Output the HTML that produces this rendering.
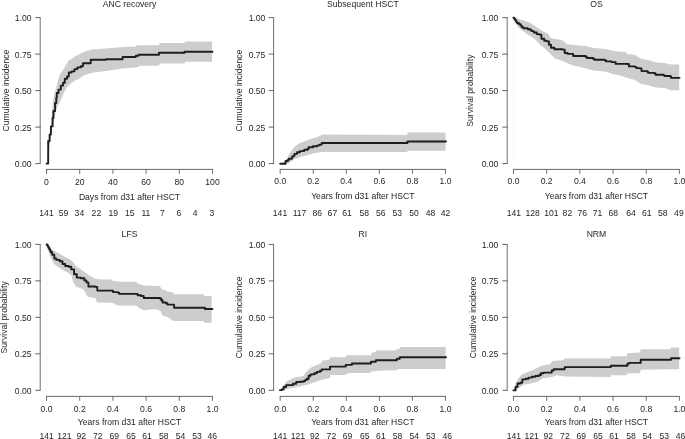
<!DOCTYPE html>
<html><head><meta charset="utf-8"><style>
html,body{margin:0;padding:0;background:#fff;width:685px;height:439px;overflow:hidden}
svg{display:block;will-change:transform}
text{font-family:"Liberation Sans", sans-serif;font-size:8.6px;fill:#262626}
</style></head><body>
<svg width="685" height="439" viewBox="0 0 685 439">
<rect width="685" height="439" fill="#fff"/>
<g><polygon points="46.6,163.6 48,150 49.5,138 51,125 52.9,102.2 54.6,93 56.3,87.4 59.5,74.8 63.7,69.1 68.2,61.1 75.9,55.9 83.9,51.9 91.1,49.5 106.2,48.4 123,47 136.1,46.6 136.1,45.3 159.4,45.3 159.4,43 184.7,43 184.7,41.6 212,41.6 212,61.7 184.7,61.7 184.7,63.5 159.4,63.5 159.4,65.8 138.9,65.8 138.9,67.1 136.1,67.1 136.1,67.6 122.2,68.6 106.2,71 95,72.2 89.5,73.4 83.4,75.5 79.9,78.2 74.5,80.9 70.4,83.7 67.6,86.4 64.9,90.5 62.8,95.3 60.8,100 59.3,103 57.6,106 55.9,111 55,116 53.5,122 52,130 50.5,140 49,150 47.2,163.6" fill="#cdcdcd"/><path d="M46.6,163.6H48.2V141H49.6V134.6H50.9V126.4H52.6V118H53.4V111H55.1V103H56.3V97.6H56.8V93H58.5V89.6H60.8V85.6H63.1V82.8H64.8V78.8H67.1V76.5H68.8V72.5H71.7V71.4H74.5V69.1H77.4V67.4H80.8V66.3H83V63.2H90.7V59.8H106V59.2H122.6V57H135.8V55.8H138.5V54.8H159V52.8H184.5V51.7H212.5" fill="none" stroke="#1f1d1e" stroke-width="1.9" stroke-linejoin="round" stroke-linecap="round"/><path d="M40.2,17.6V163.6M46.5,169.4V173.8M79.7,169.4V173.8M112.9,169.4V173.8M146.1,169.4V173.8M179.3,169.4V173.8M212.5,169.4V173.8" fill="none" stroke="#707070" stroke-width="1.0"/><path d="M35.3,17.6H40.65M35.3,54.1H40.65M35.3,90.6H40.65M35.3,127.1H40.65M35.3,163.6H40.65M46.05,169.4H212.95" fill="none" stroke="#555555" stroke-width="0.9"/><text x="31.6" y="21.2" text-anchor="end">1.00</text><text x="31.6" y="57.7" text-anchor="end">0.75</text><text x="31.6" y="94.2" text-anchor="end">0.50</text><text x="31.6" y="130.7" text-anchor="end">0.25</text><text x="31.6" y="167.2" text-anchor="end">0.00</text><text x="46.5" y="184.9" text-anchor="middle">0</text><text x="79.7" y="184.9" text-anchor="middle">20</text><text x="112.9" y="184.9" text-anchor="middle">40</text><text x="146.1" y="184.9" text-anchor="middle">60</text><text x="179.3" y="184.9" text-anchor="middle">80</text><text x="212.5" y="184.9" text-anchor="middle">100</text><text x="129.5" y="6.8" text-anchor="middle">ANC recovery</text><text x="129.5" y="199.9" text-anchor="middle">Days from d31 after HSCT</text><text transform="translate(8.8,90.6) rotate(-90)" text-anchor="middle">Cumulative incidence</text><text x="46.5" y="216" text-anchor="middle">141</text><text x="63.5" y="216" text-anchor="middle">59</text><text x="79.4" y="216" text-anchor="middle">34</text><text x="96.4" y="216" text-anchor="middle">22</text><text x="113.2" y="216" text-anchor="middle">19</text><text x="129.7" y="216" text-anchor="middle">15</text><text x="145.9" y="216" text-anchor="middle">11</text><text x="162.5" y="216" text-anchor="middle">7</text><text x="179" y="216" text-anchor="middle">6</text><text x="195.2" y="216" text-anchor="middle">4</text><text x="212" y="216" text-anchor="middle">3</text></g>
<g><polygon points="280.5,163.7 285.7,160.4 290,152.8 294.4,146.8 299.9,143 307.5,140.2 318.4,136.4 322.8,134.6 407.4,134.9 407.4,132.6 445.6,132.6 445.6,150.7 407.4,150.7 407.4,151.9 321.7,151.9 314,153.3 307.5,155 299.9,157.2 294.4,159.3 288.9,163.2 286,163.7" fill="#cdcdcd"/><path d="M280.2,163.7H285.6V161H287.8V159.9H288.9V158.8H291.9V157.4H292.4V156.1H294.4V153.9H297.1V152.2H299.9V151.1H304.2V149.7H307.5V149H308.6V147.3H313V146.2H317.3V145.4H319.5V144.6H321.7V143H407.4V141.5H446" fill="none" stroke="#1f1d1e" stroke-width="1.9" stroke-linejoin="round" stroke-linecap="round"/><path d="M273.6,17.6V163.6M280.2,169.4V173.8M313.26,169.4V173.8M346.32,169.4V173.8M379.38,169.4V173.8M412.44,169.4V173.8M445.5,169.4V173.8" fill="none" stroke="#707070" stroke-width="1.0"/><path d="M268.7,17.6H274.05M268.7,54.1H274.05M268.7,90.6H274.05M268.7,127.1H274.05M268.7,163.6H274.05M279.75,169.4H445.95" fill="none" stroke="#555555" stroke-width="0.9"/><text x="265.4" y="21.2" text-anchor="end">1.00</text><text x="265.4" y="57.7" text-anchor="end">0.75</text><text x="265.4" y="94.2" text-anchor="end">0.50</text><text x="265.4" y="130.7" text-anchor="end">0.25</text><text x="265.4" y="167.2" text-anchor="end">0.00</text><text x="280.2" y="183.9" text-anchor="middle">0.0</text><text x="313.26" y="183.9" text-anchor="middle">0.2</text><text x="346.32" y="183.9" text-anchor="middle">0.4</text><text x="379.38" y="183.9" text-anchor="middle">0.6</text><text x="412.44" y="183.9" text-anchor="middle">0.8</text><text x="445.5" y="183.9" text-anchor="middle">1.0</text><text x="362.85" y="6.8" text-anchor="middle">Subsequent HSCT</text><text x="362.85" y="198.9" text-anchor="middle">Years from d31 after HSCT</text><text transform="translate(241.6,90.6) rotate(-90)" text-anchor="middle">Cumulative incidence</text><text x="280" y="216" text-anchor="middle">141</text><text x="299.5" y="216" text-anchor="middle">117</text><text x="317.3" y="216" text-anchor="middle">86</text><text x="332.4" y="216" text-anchor="middle">67</text><text x="347" y="216" text-anchor="middle">61</text><text x="364.2" y="216" text-anchor="middle">58</text><text x="380.8" y="216" text-anchor="middle">56</text><text x="397.3" y="216" text-anchor="middle">53</text><text x="414.1" y="216" text-anchor="middle">50</text><text x="430.5" y="216" text-anchor="middle">48</text><text x="445.6" y="216" text-anchor="middle">42</text></g>
<g><polygon points="513.5,17.6 516,17.6 520,19.5 525,21 530,22.7 534,25.5 538.2,28.2 542.8,31.2 545,32.3 548.3,34 550.5,37.8 553.7,38.7 561.9,40 562.8,40.8 566.9,43.9 573.2,45 585.5,46.1 592.3,47.8 606,49.1 611.5,50.5 620,51.8 625.9,51.8 626.7,54.1 634.8,54.8 640.7,58.5 648.1,60 655.5,62.2 664.4,63 671.1,64.4 679.2,64.4 679.2,90.3 671.1,90.3 664.4,88.1 655.5,87.4 648.1,85.2 640.7,83.7 634.8,80 626.7,77.8 620,75.5 611.5,73.7 606,71.7 592.3,70.3 585.5,68.3 573.2,65.5 566,62.8 563.3,61.2 555.1,58.5 551,54.4 545.5,48.9 540.1,44.8 534.6,38.7 527.8,34.6 520.9,29.8 516.8,25.7 513.5,19" fill="#cdcdcd"/><line x1="513.5" y1="17.6" x2="513.5" y2="163.6" stroke="#f2f2f2" stroke-width="0.6"/><path d="M513.4,17.6H514.2V18.7H515V19.9H515.8V21.1H516.6V22.3H517.4V23.3H519.2V24.3H520.6V25.6H521.8V27.2H523.5V28.3H527.8V29.2H530.5V30.2H531.6V31.1H533.9V32.5H536.7V34.1H539.4V34.6H541.4V38.7H544.2V40.7H546.9V41.4H549V44.8H551V47.8H554.4V49.2H562.6V49.6H564.7V53H567.7V53.9H573.2V56H585.5V56.7H586.9V58H593V58.7H594.4V59.8H604.6V60.3H606V61.4H611.5V62.1H615.6V63.9H626.7V64H628.9V66.4H634.8V66.9H636.3V68.1H640V68.4H641.5V71.1H647.4V71.8H648.1V72.9H654.1V73.3H655.5V74.8H663.7V75.1H664.4V76H670.3V76.4H671.1V77.9H679.5" fill="none" stroke="#1f1d1e" stroke-width="1.9" stroke-linejoin="round" stroke-linecap="round"/><path d="M507.2,17.6V163.6M513.5,169.4V173.8M546.68,169.4V173.8M579.86,169.4V173.8M613.04,169.4V173.8M646.22,169.4V173.8M679.4,169.4V173.8" fill="none" stroke="#707070" stroke-width="1.0"/><path d="M502.3,17.6H507.65M502.3,54.1H507.65M502.3,90.6H507.65M502.3,127.1H507.65M502.3,163.6H507.65M513.05,169.4H679.85" fill="none" stroke="#555555" stroke-width="0.9"/><text x="498.4" y="21.2" text-anchor="end">1.00</text><text x="498.4" y="57.7" text-anchor="end">0.75</text><text x="498.4" y="94.2" text-anchor="end">0.50</text><text x="498.4" y="130.7" text-anchor="end">0.25</text><text x="498.4" y="167.2" text-anchor="end">0.00</text><text x="513.5" y="183.9" text-anchor="middle">0.0</text><text x="546.68" y="183.9" text-anchor="middle">0.2</text><text x="579.86" y="183.9" text-anchor="middle">0.4</text><text x="613.04" y="183.9" text-anchor="middle">0.6</text><text x="646.22" y="183.9" text-anchor="middle">0.8</text><text x="679.4" y="183.9" text-anchor="middle">1.0</text><text x="596.45" y="6.8" text-anchor="middle">OS</text><text x="596.45" y="198.9" text-anchor="middle">Years from d31 after HSCT</text><text transform="translate(473.3,90.6) rotate(-90)" text-anchor="middle">Survival probability</text><text x="513.8" y="216" text-anchor="middle">141</text><text x="532.6" y="216" text-anchor="middle">128</text><text x="551.4" y="216" text-anchor="middle">101</text><text x="567.4" y="216" text-anchor="middle">82</text><text x="582.2" y="216" text-anchor="middle">76</text><text x="597.6" y="216" text-anchor="middle">71</text><text x="613.2" y="216" text-anchor="middle">68</text><text x="631.1" y="216" text-anchor="middle">64</text><text x="646.7" y="216" text-anchor="middle">61</text><text x="662.8" y="216" text-anchor="middle">58</text><text x="678.9" y="216" text-anchor="middle">49</text></g>
<g><polygon points="46.6,244.4 48.8,244.8 50.8,248.4 55.4,251.5 60,253.8 64.5,256.8 70.2,259.4 73.6,262.8 75.5,265.8 79.5,268.5 85,272.2 89.1,275.6 95.9,279 104,279.6 111.6,279.6 113,280.9 117.8,281.6 119.1,281.8 136.2,281.8 137.6,283.5 143.7,285.5 159.8,286.1 161.8,289.6 165.9,290.3 167.3,291.6 172.8,292.3 174.1,294.3 203.5,294.3 204.2,296.1 211.7,296.1 211.7,322.8 204.2,322.8 203.5,321 173.5,321 167.3,316.9 162.5,315.5 160.5,310.8 155,308.9 143.7,310.3 138.3,307.6 136.2,305.5 117.8,305.5 112.3,302.8 96.8,302.5 95.9,298.3 87.7,297 83.2,289.2 75.9,286.4 73.2,281.9 71.3,274.9 64.5,270.8 57.7,266.7 53.6,263.3 50.2,256.5 46.6,246" fill="#cdcdcd"/><line x1="46.5" y1="244.4" x2="46.5" y2="390.3" stroke="#f2f2f2" stroke-width="0.6"/><path d="M46.6,244.4H47.3V245.5H48V246.8H48.7V248H49.4V249.3H50.1V250.8H50.8V252.3H52.2V254.8H54.3V258.5H56.3V259.9H59.7V261.2H62.5V264H65.2V266H68.6V266.7H71.3V269.4H74.1V274.2H76.8V277.6H80.9V278.3H84.3V280.4H86.4V282.4H88.4V286.5H95.3V286.9H97.3V290.6H111.6V290.6H113V292.1H117.8V292.6H119.1V293.9H136.2V293.9H137.6V295.3H141V296H143.7V298H159.8V298.5H161.2V300.2H162.5V302.5H165.9V303.2H167.3V304.6H174.1V307.7H204.9V309H212.4" fill="none" stroke="#1f1d1e" stroke-width="1.9" stroke-linejoin="round" stroke-linecap="round"/><path d="M40.2,244.4V390.3M46.5,396.4V400.8M79.7,396.4V400.8M112.9,396.4V400.8M146.1,396.4V400.8M179.3,396.4V400.8M212.5,396.4V400.8" fill="none" stroke="#707070" stroke-width="1.0"/><path d="M35.3,244.4H40.65M35.3,280.88H40.65M35.3,317.35H40.65M35.3,353.83H40.65M35.3,390.3H40.65M46.05,396.4H212.95" fill="none" stroke="#555555" stroke-width="0.9"/><text x="31.6" y="248" text-anchor="end">1.00</text><text x="31.6" y="284.48" text-anchor="end">0.75</text><text x="31.6" y="320.95" text-anchor="end">0.50</text><text x="31.6" y="357.43" text-anchor="end">0.25</text><text x="31.6" y="393.9" text-anchor="end">0.00</text><text x="46.5" y="411.6" text-anchor="middle">0.0</text><text x="79.7" y="411.6" text-anchor="middle">0.2</text><text x="112.9" y="411.6" text-anchor="middle">0.4</text><text x="146.1" y="411.6" text-anchor="middle">0.6</text><text x="179.3" y="411.6" text-anchor="middle">0.8</text><text x="212.5" y="411.6" text-anchor="middle">1.0</text><text x="129.5" y="237.2" text-anchor="middle">LFS</text><text x="129.5" y="425.3" text-anchor="middle">Years from d31 after HSCT</text><text transform="translate(6.8,317.35) rotate(-90)" text-anchor="middle">Survival probability</text><text x="46.7" y="439.3" text-anchor="middle">141</text><text x="64.3" y="439.3" text-anchor="middle">121</text><text x="81.3" y="439.3" text-anchor="middle">92</text><text x="97.8" y="439.3" text-anchor="middle">72</text><text x="114.2" y="439.3" text-anchor="middle">69</text><text x="131" y="439.3" text-anchor="middle">65</text><text x="147" y="439.3" text-anchor="middle">61</text><text x="163.8" y="439.3" text-anchor="middle">58</text><text x="180.6" y="439.3" text-anchor="middle">54</text><text x="197" y="439.3" text-anchor="middle">53</text><text x="212.3" y="439.3" text-anchor="middle">46</text></g>
<g><polygon points="280.5,390.1 283,386.3 286.8,381.3 294.3,377.6 303.1,376.3 307.4,370.7 311.8,366.9 321.2,363.2 321.8,360.7 329.4,359.4 330,357.3 345.7,357.3 346.4,355.3 371,355.3 371.7,352.6 375.8,351.9 375.8,350.4 396.1,350.4 396.8,348.9 399.8,348.9 399.8,346.9 445.7,346.9 445.7,368.9 399.8,368.9 396.8,369.6 396.1,370.3 385,370.5 375.8,371 371,371.7 369.6,373 351.9,373 346.4,373.7 345.7,375.1 330,375.1 330.6,376.3 329.4,378.2 321.8,379.8 315.6,382 308.1,384.5 303.1,385.7 298,387 290.5,388.2 284.3,390.1" fill="#cdcdcd"/><path d="M279.9,390.1H281.8V389.5H283.6V387H286.1V385.1H293V383.8H296.2V382H299.9V381.7H303.1V381.3H304.9V380.1H306.8V378.8H308.7V375.7H310.6V374.4H314.3V373.2H316.8V371.9H320V370.7H321.8V369.4H330V366.6H345.7V364.9H351.9V363.5H371V361.7H375.8V360.3H396.8V358.8H399.8V357.3H446" fill="none" stroke="#1f1d1e" stroke-width="1.9" stroke-linejoin="round" stroke-linecap="round"/><path d="M273.6,244.4V390.3M280.2,396.4V400.8M313.26,396.4V400.8M346.32,396.4V400.8M379.38,396.4V400.8M412.44,396.4V400.8M445.5,396.4V400.8" fill="none" stroke="#707070" stroke-width="1.0"/><path d="M268.7,244.4H274.05M268.7,280.88H274.05M268.7,317.35H274.05M268.7,353.83H274.05M268.7,390.3H274.05M279.75,396.4H445.95" fill="none" stroke="#555555" stroke-width="0.9"/><text x="265.4" y="248" text-anchor="end">1.00</text><text x="265.4" y="284.48" text-anchor="end">0.75</text><text x="265.4" y="320.95" text-anchor="end">0.50</text><text x="265.4" y="357.43" text-anchor="end">0.25</text><text x="265.4" y="393.9" text-anchor="end">0.00</text><text x="280.2" y="411.6" text-anchor="middle">0.0</text><text x="313.26" y="411.6" text-anchor="middle">0.2</text><text x="346.32" y="411.6" text-anchor="middle">0.4</text><text x="379.38" y="411.6" text-anchor="middle">0.6</text><text x="412.44" y="411.6" text-anchor="middle">0.8</text><text x="445.5" y="411.6" text-anchor="middle">1.0</text><text x="362.85" y="237.2" text-anchor="middle">RI</text><text x="362.85" y="425.3" text-anchor="middle">Years from d31 after HSCT</text><text transform="translate(242.3,317.35) rotate(-90)" text-anchor="middle">Cumulative incidence</text><text x="280.2" y="439.3" text-anchor="middle">141</text><text x="297.9" y="439.3" text-anchor="middle">121</text><text x="314.7" y="439.3" text-anchor="middle">92</text><text x="331.4" y="439.3" text-anchor="middle">72</text><text x="347.5" y="439.3" text-anchor="middle">69</text><text x="364.7" y="439.3" text-anchor="middle">65</text><text x="380.9" y="439.3" text-anchor="middle">61</text><text x="397.6" y="439.3" text-anchor="middle">58</text><text x="414.3" y="439.3" text-anchor="middle">54</text><text x="430.7" y="439.3" text-anchor="middle">53</text><text x="447.3" y="439.3" text-anchor="middle">46</text></g>
<g><polygon points="514,390.4 515.5,383.5 518.2,378.7 521.6,374.6 527.8,371.9 533.2,369.9 538.7,367.1 544.2,365.1 549.6,364.4 552.4,361 563.3,360.3 564.7,358.4 610.8,358.4 610.8,356.3 626.7,356.3 627.4,353.3 640,352.6 640.7,349.3 670.3,349.3 671.1,347.4 679.2,347.4 679.2,369.3 670.3,369.3 640.7,369.8 640,373.3 627.4,373.3 626.7,375.3 610.8,375.3 610.8,377 564.7,376.5 556.5,375.3 551,377.2 542.8,378.2 537.3,381.8 530.5,383.4 523.7,384.8 518.2,388.6 516,390.4" fill="#cdcdcd"/><path d="M513.4,390.4H515.5V386.9H517.5V383.5H520.2V382.8H522.3V379.4H525.7V378.7H528.5V377.6H531.9V376.7H535.3V376H538.7V375.3H540.8V373.3H543.5V372.6H551.7V370.5H553.7V369.2H564.7V367.1H610.8V365.7H627.4V363.7H628.9V362.9H640.7V359.7H671.1V358.2H679.5" fill="none" stroke="#1f1d1e" stroke-width="1.9" stroke-linejoin="round" stroke-linecap="round"/><path d="M507.2,244.4V390.3M513.5,396.4V400.8M546.68,396.4V400.8M579.86,396.4V400.8M613.04,396.4V400.8M646.22,396.4V400.8M679.4,396.4V400.8" fill="none" stroke="#707070" stroke-width="1.0"/><path d="M502.3,244.4H507.65M502.3,280.88H507.65M502.3,317.35H507.65M502.3,353.83H507.65M502.3,390.3H507.65M513.05,396.4H679.85" fill="none" stroke="#555555" stroke-width="0.9"/><text x="498.4" y="248" text-anchor="end">1.00</text><text x="498.4" y="284.48" text-anchor="end">0.75</text><text x="498.4" y="320.95" text-anchor="end">0.50</text><text x="498.4" y="357.43" text-anchor="end">0.25</text><text x="498.4" y="393.9" text-anchor="end">0.00</text><text x="513.5" y="411.6" text-anchor="middle">0.0</text><text x="546.68" y="411.6" text-anchor="middle">0.2</text><text x="579.86" y="411.6" text-anchor="middle">0.4</text><text x="613.04" y="411.6" text-anchor="middle">0.6</text><text x="646.22" y="411.6" text-anchor="middle">0.8</text><text x="679.4" y="411.6" text-anchor="middle">1.0</text><text x="596.45" y="237.2" text-anchor="middle">NRM</text><text x="596.45" y="425.3" text-anchor="middle">Years from d31 after HSCT</text><text transform="translate(476.1,317.35) rotate(-90)" text-anchor="middle">Cumulative incidence</text><text x="513.8" y="439.3" text-anchor="middle">141</text><text x="531.7" y="439.3" text-anchor="middle">121</text><text x="548.3" y="439.3" text-anchor="middle">92</text><text x="564.9" y="439.3" text-anchor="middle">72</text><text x="581.2" y="439.3" text-anchor="middle">69</text><text x="598" y="439.3" text-anchor="middle">65</text><text x="614" y="439.3" text-anchor="middle">61</text><text x="631" y="439.3" text-anchor="middle">58</text><text x="647.3" y="439.3" text-anchor="middle">54</text><text x="664.3" y="439.3" text-anchor="middle">53</text><text x="680.6" y="439.3" text-anchor="middle">46</text></g>
</svg>
</body></html>
